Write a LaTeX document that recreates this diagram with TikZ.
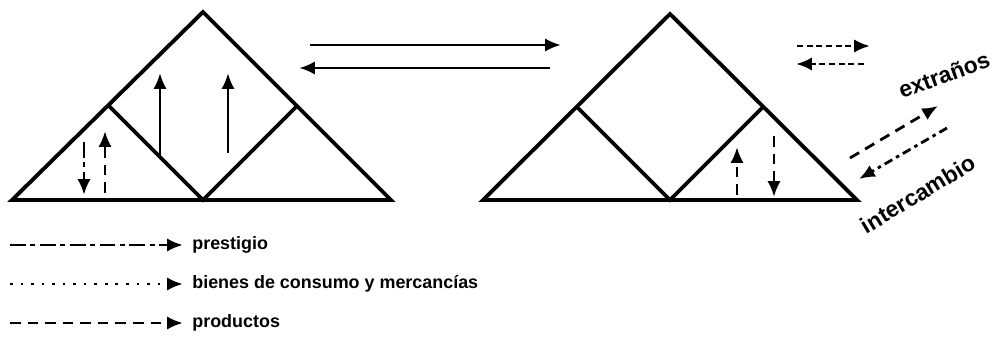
\documentclass[tikz,border=0pt]{standalone}
\usepackage{fontspec}
\setmainfont{Liberation Sans}
\usetikzlibrary{arrows.meta}
\tikzset{
  edge/.style={line width=2.2pt, line join=miter, line cap=round},
  flow/.style={line width=1.6pt, -{Latex[length=9pt,width=7.5pt]}},
  prestigiostyle/.style={flow, dash pattern=on 9pt off 2.5pt on 3pt off 2.5pt},
  bienesstyle/.style={flow, dash pattern=on 1.5pt off 4.5pt},
  productosstyle/.style={flow, dash pattern=on 6pt off 4pt},
  shortdash/.style={flow, dash pattern=on 3.5pt off 2pt},
  legendtext/.style={anchor=west, font=\bfseries\fontsize{10.2}{12}\selectfont, inner sep=0pt},
  sidetext/.style={font=\bfseries\fontsize{13}{15}\selectfont, inner sep=0pt}
}
\begin{document}
\begin{tikzpicture}[x=0.02cm,y=-0.02cm]
\useasboundingbox (0,0) rectangle (992,344);
% left triangle
\coordinate (LA) at (203,12);
\coordinate (LL) at (12,200);
\coordinate (LR) at (391,200);
\coordinate (LB) at (203,200);
\coordinate (LSL) at (109,106);
\coordinate (LSR) at (297,106);
\draw[edge] (LL) -- (LA) -- (LR) -- cycle;
\draw[edge] (LSL) -- (LB) -- (LSR);
% arrows in left triangle
\coordinate (a1s) at (160,157); \coordinate (a1e) at (160,73);
\coordinate (a2s) at (228,153); \coordinate (a2e) at (228,73);
\draw[flow] (a1s) -- (a1e);
\draw[flow] (a2s) -- (a2e);
\coordinate (a3s) at (84,142); \coordinate (a3e) at (84,195);
\coordinate (a4s) at (105,193); \coordinate (a4e) at (105,131);
\draw[prestigiostyle] (a3s) -- (a3e);
\draw[productosstyle] (a4s) -- (a4e);
% middle horizontal arrows
\coordinate (m1s) at (310,45); \coordinate (m1e) at (561,45);
\coordinate (m2s) at (550,68); \coordinate (m2e) at (299,68);
\draw[flow] (m1s) -- (m1e);
\draw[flow] (m2s) -- (m2e);
% right triangle
\coordinate (RA) at (670,14);
\coordinate (RL) at (483,200);
\coordinate (RR) at (857,200);
\coordinate (RB) at (670,200);
\coordinate (RSL) at (577,107);
\coordinate (RSR) at (763,107);
\draw[edge] (RL) -- (RA) -- (RR) -- cycle;
\draw[edge] (RSL) -- (RB) -- (RSR);
% arrows in right small triangle
\coordinate (r1s) at (737,195); \coordinate (r1e) at (737,147);
\coordinate (r2s) at (774,136); \coordinate (r2e) at (774,197);
\draw[productosstyle] (r1s) -- (r1e);
\draw[productosstyle] (r2s) -- (r2e);
% top right arrows
\coordinate (t1s) at (797,46); \coordinate (t1e) at (870,46);
\coordinate (t2s) at (864,64); \coordinate (t2e) at (796,64);
\draw[shortdash] (t1s) -- (t1e);
\draw[shortdash] (t2s) -- (t2e);
% diagonal arrows
\coordinate (d1s) at (850,158); \coordinate (d1e) at (938,106);
\coordinate (d2s) at (947,128); \coordinate (d2e) at (859,179);
\draw[productosstyle] (d1s) -- (d1e);
\draw[prestigiostyle, dash pattern=on 5pt off 2.5pt on 2pt off 2.5pt] (d2s) -- (d2e);
\node[sidetext, rotate=20] (extr) at (944,75) {extraños};
\node[sidetext, rotate=31] (inter) at (918,194) {intercambio};
% legend
\coordinate (k1s) at (10,245); \coordinate (k1e) at (183,245);
\coordinate (k2s) at (10,284); \coordinate (k2e) at (183,284);
\coordinate (k3s) at (10,323); \coordinate (k3e) at (183,323);
\draw[prestigiostyle] (k1s) -- (k1e);
\draw[bienesstyle] (k2s) -- (k2e);
\draw[productosstyle] (k3s) -- (k3e);
\node[legendtext] (l1) at (192,245) {prestigio};
\node[legendtext] (l2) at (192,284) {bienes de consumo y mercancías};
\node[legendtext] (l3) at (192,323) {productos};
\end{tikzpicture}
\end{document}
